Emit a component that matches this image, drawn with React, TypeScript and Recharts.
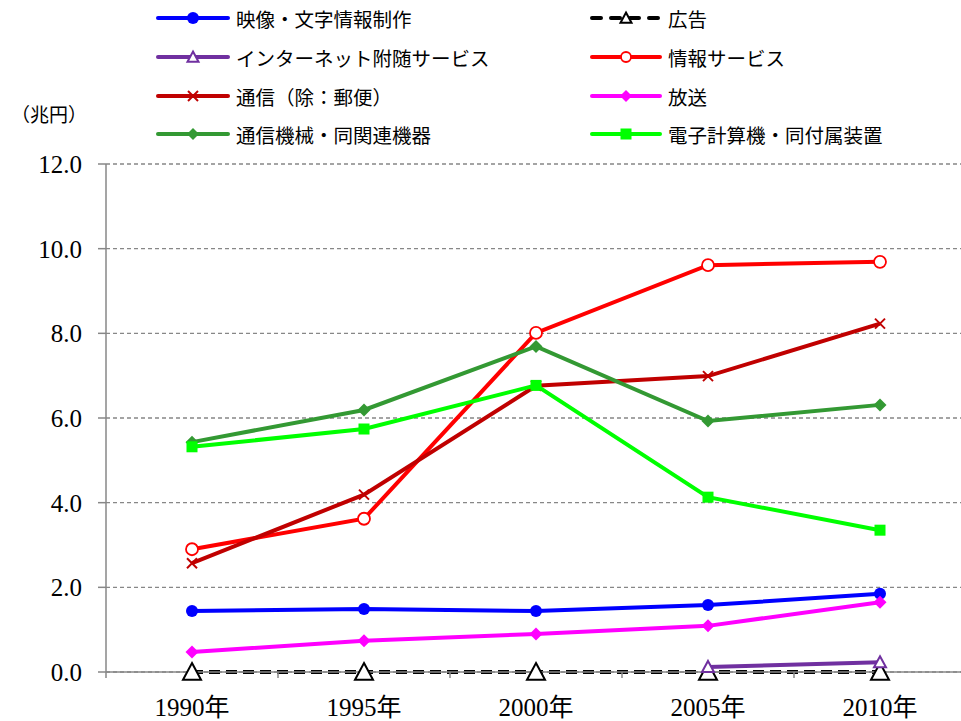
import { LineChart, Line, XAxis, YAxis, CartesianGrid } from 'recharts';

const YEARS = ['1990年', '1995年', '2000年', '2005年', '2010年'];

// 兆円
const EIZO = [1.44, 1.49, 1.44, 1.58, 1.85];
const KOKOKU = [0, 0, 0, 0, 0];
const INTERNET = [null, null, null, 0.12, 0.23];
const JOHO = [2.9, 3.62, 8.01, 9.61, 9.69];
const TSUSHIN = [2.57, 4.19, 6.76, 6.99, 8.23];
const HOSO = [0.47, 0.74, 0.9, 1.09, 1.65];
const KIKAI = [5.43, 6.19, 7.69, 5.93, 6.31];
const KEISANKI = [5.32, 5.74, 6.77, 4.13, 3.35];

const Y_TICKS = [0, 2, 4, 6, 8, 10, 12];

type Shape = 'circle' | 'triangle' | 'ring' | 'cross' | 'diamond' | 'square';

interface SeriesDef {
  key: string;
  name: string;
  color: string;
  shape: Shape;
  values: (number | null)[];
  size: number;
  legendSize: number;
  dashed?: boolean;
}

const SERIES: SeriesDef[] = [
  { key: 'eizo', name: '映像・文字情報制作', color: '#0000ff', shape: 'circle', values: EIZO, size: 12, legendSize: 12 },
  { key: 'kokoku', name: '広告', color: '#000000', shape: 'triangle', values: KOKOKU, size: 18, legendSize: 11, dashed: true },
  { key: 'internet', name: 'インターネット附随サービス', color: '#7030a0', shape: 'triangle', values: INTERNET, size: 12, legendSize: 11 },
  { key: 'joho', name: '情報サービス', color: '#ff0000', shape: 'ring', values: JOHO, size: 12, legendSize: 10 },
  { key: 'tsushin', name: '通信（除：郵便）', color: '#c00000', shape: 'cross', values: TSUSHIN, size: 10, legendSize: 10 },
  { key: 'hoso', name: '放送', color: '#ff00ff', shape: 'diamond', values: HOSO, size: 13, legendSize: 12 },
  { key: 'kikai', name: '通信機械・同関連機器', color: '#339933', shape: 'diamond', values: KIKAI, size: 13, legendSize: 12 },
  { key: 'keisanki', name: '電子計算機・同付属装置', color: '#00ff00', shape: 'square', values: KEISANKI, size: 11, legendSize: 11 },
];

const data = YEARS.map((year, i) => {
  const row: Record<string, string | number | null> = { year };
  SERIES.forEach((s) => {
    row[s.key] = s.values[i];
  });
  return row;
});

const GRAY = '#878787';
const SERIF = "'Liberation Serif', 'Noto Sans CJK JP', serif";
const SANS = "'Noto Sans CJK JP', 'Noto Sans', sans-serif";
// half of one category slot; points sit in the middle of each slot
const HALF_BAND = 86;

function marker(shape: Shape, color: string, cx: number, cy: number, size: number, key?: string) {
  const h = size / 2;
  switch (shape) {
    case 'circle':
      return <circle key={key} cx={cx} cy={cy} r={h} fill={color} />;
    case 'ring':
      return <circle key={key} cx={cx} cy={cy} r={h} fill="#fff" stroke={color} strokeWidth={1.8} />;
    case 'triangle':
      return (
        <polygon
          key={key}
          points={`${cx},${cy - h} ${cx + h},${cy + h * 0.85} ${cx - h},${cy + h * 0.85}`}
          fill="#fff"
          stroke={color}
          strokeWidth={2}
        />
      );
    case 'cross':
      return (
        <g key={key} stroke={color} strokeWidth={2}>
          <line x1={cx - h} y1={cy - h} x2={cx + h} y2={cy + h} />
          <line x1={cx - h} y1={cy + h} x2={cx + h} y2={cy - h} />
        </g>
      );
    case 'diamond':
      return <polygon key={key} points={`${cx},${cy - h} ${cx + h},${cy} ${cx},${cy + h} ${cx - h},${cy}`} fill={color} />;
    case 'square':
      return <rect key={key} x={cx - h} y={cy - h} width={size} height={size} fill={color} />;
  }
}

const makeDot = (s: SeriesDef) => (props: any) => {
  const { cx, cy, index, value } = props;
  const key = `${s.key}-${index}`;
  if (value == null || cx == null || cy == null) return <g key={key} />;
  return marker(s.shape, s.color, cx, cy, s.size, key);
};

const YearTick = (props: any) => {
  const { x, y, payload, index, visibleTicksCount } = props;
  const axisY = y - 26;
  return (
    <g>
      <line x1={x - HALF_BAND} y1={axisY} x2={x - HALF_BAND} y2={axisY + 6} stroke={GRAY} strokeWidth={1.5} />
      {index === visibleTicksCount - 1 && (
        <line x1={x + HALF_BAND} y1={axisY} x2={x + HALF_BAND} y2={axisY + 6} stroke={GRAY} strokeWidth={1.5} />
      )}
      <text x={x} y={y} dy="0.71em" textAnchor="middle" fontFamily={SERIF} fontSize={25} fill="#000">
        {payload.value}
      </text>
    </g>
  );
};

function ChartLegend() {
  const rowY = [18, 57, 96, 134];
  const cols = [
    { x1: 158, x2: 228, text: 236 },
    { x1: 592, x2: 660, text: 668 },
  ];
  return (
    <svg width={961} height={150} style={{ position: 'absolute', left: 0, top: 0 }}>
      <text x={11} y={113} dominantBaseline="central" fontFamily={SANS} fontSize={19} fill="#000">
        （兆円）
      </text>
      {SERIES.map((s, i) => {
        const col = cols[i % 2];
        const y = rowY[Math.floor(i / 2)];
        const mid = (col.x1 + col.x2) / 2;
        return (
          <g key={s.key}>
            <line
              x1={col.x1}
              y1={y}
              x2={col.x2}
              y2={y}
              stroke={s.color}
              strokeWidth={4}
              strokeLinecap="round"
              strokeDasharray={s.dashed ? '9 10' : undefined}
            />
            {marker(s.shape, s.color, mid, y, s.legendSize)}
            <text x={col.text} y={y} dominantBaseline="central" fontFamily={SANS} fontSize={19.5} fill="#000">
              {s.name}
            </text>
          </g>
        );
      })}
    </svg>
  );
}

export default function App() {
  return (
    <div style={{ position: 'relative', width: 961, height: 721, overflow: 'hidden', background: '#fff' }}>
      <style>{'body{margin:0}'}</style>
      <LineChart width={970} height={721} data={data} margin={{ top: 164, right: 4, left: 0, bottom: 8 }}>
        <CartesianGrid vertical={false} stroke={GRAY} strokeDasharray="4 3" strokeWidth={1.3} />
        <XAxis
          dataKey="year"
          scale="point"
          padding={{ left: HALF_BAND, right: HALF_BAND }}
          height={41}
          axisLine={{ stroke: GRAY, strokeWidth: 1.5 }}
          tickLine={false}
          tick={<YearTick />}
          tickSize={6}
          tickMargin={20}
          interval={0}
        />
        <YAxis
          width={106}
          domain={[0, 12]}
          ticks={Y_TICKS}
          tickFormatter={(v: number) => v.toFixed(1)}
          axisLine={{ stroke: GRAY, strokeWidth: 1.5 }}
          tickLine={{ stroke: GRAY, strokeWidth: 1.5 }}
          tickSize={8}
          tickMargin={16}
          tick={{ fontFamily: SERIF, fontSize: 25, fill: '#000' }}
        />
        {SERIES.map((s) => (
          <Line
            key={s.key}
            dataKey={s.key}
            name={s.name}
            stroke={s.color}
            strokeWidth={4}
            strokeDasharray={s.dashed ? '11 6' : undefined}
            dot={makeDot(s)}
            activeDot={false}
            isAnimationActive={false}
            connectNulls={false}
          />
        ))}
      </LineChart>
      <ChartLegend />
    </div>
  );
}
